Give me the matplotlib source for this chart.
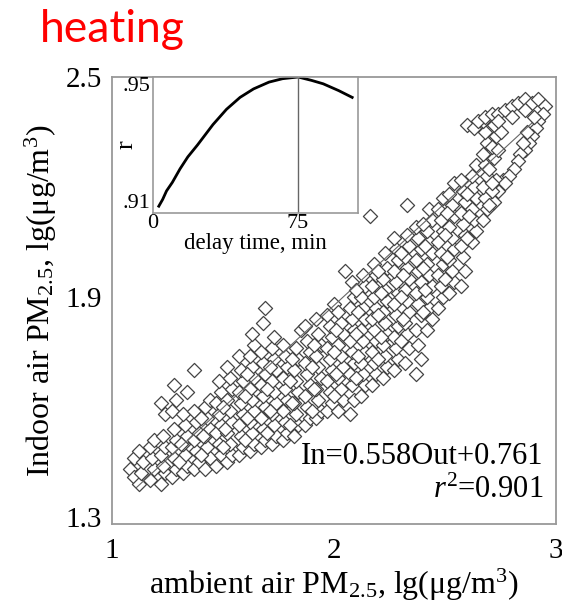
import matplotlib
matplotlib.use('Agg')
import matplotlib.pyplot as plt
import numpy as np

plt.rcParams['font.family'] = 'Liberation Serif'
plt.rcParams['mathtext.fontset'] = 'custom'
plt.rcParams['mathtext.rm'] = 'Liberation Serif'
plt.rcParams['mathtext.it'] = 'Liberation Serif:italic'

# lg of ambient / indoor PM2.5 during the heating season, one column slice per row
ambient = [
    1.08, 1.10, 1.10, 1.12, 1.13, 1.14, 1.12,
    1.17, 1.19, 1.18, 1.17, 1.19,
    1.22, 1.24, 1.23, 1.22, 1.24, 1.23, 1.22, 1.24,
    1.27, 1.29, 1.28, 1.27, 1.29, 1.28, 1.27, 1.29, 1.28,
    1.32, 1.34, 1.33, 1.32, 1.34, 1.33, 1.32, 1.34,
    1.37, 1.39, 1.38, 1.37, 1.39, 1.38, 1.37, 1.37,
    1.42, 1.44, 1.43, 1.42, 1.44, 1.43, 1.42, 1.44,
    1.47, 1.49, 1.48, 1.47, 1.49, 1.48, 1.47, 1.49, 1.48,
    1.52, 1.54, 1.53, 1.52, 1.54, 1.53, 1.52, 1.54, 1.53, 1.52,
    1.57, 1.59, 1.58, 1.57, 1.59, 1.58, 1.57, 1.59, 1.58, 1.57,
    1.62, 1.64, 1.63, 1.62, 1.64, 1.63, 1.62, 1.64, 1.63, 1.62, 1.64, 1.63,
    1.67, 1.69, 1.68, 1.67, 1.69, 1.68, 1.67, 1.69, 1.68, 1.67, 1.68, 1.69,
    1.72, 1.74, 1.73, 1.72, 1.74, 1.73, 1.72, 1.74, 1.73, 1.72, 1.73,
    1.77, 1.79, 1.78, 1.77, 1.79, 1.78, 1.77, 1.79, 1.78, 1.77,
    1.82, 1.84, 1.83, 1.82, 1.84, 1.83, 1.82, 1.84, 1.83, 1.85,
    1.87, 1.89, 1.88, 1.87, 1.89, 1.88, 1.87, 1.89, 1.88, 1.87,
    1.92, 1.94, 1.93, 1.92, 1.94, 1.93, 1.92, 1.94, 1.93, 1.92,
    1.97, 1.99, 1.98, 1.97, 1.99, 1.98, 1.97, 1.99, 1.98, 2.00, 1.97,
    2.02, 2.04, 2.03, 2.02, 2.04, 2.03, 2.02, 2.04, 2.03, 2.02,
    2.07, 2.09, 2.08, 2.07, 2.09, 2.08, 2.07, 2.09, 2.08, 2.07, 2.09, 2.08, 2.05,
    2.12, 2.14, 2.13, 2.12, 2.14, 2.13, 2.12, 2.14, 2.13, 2.12, 2.14, 2.13,
    2.17, 2.19, 2.18, 2.17, 2.19, 2.18, 2.17, 2.19, 2.18, 2.17, 2.19, 2.18, 2.16,
    2.22, 2.24, 2.23, 2.22, 2.24, 2.23, 2.22, 2.24, 2.23, 2.22, 2.24, 2.23,
    2.27, 2.29, 2.28, 2.27, 2.29, 2.28, 2.27, 2.29, 2.28, 2.27, 2.29, 2.28, 2.27,
    2.32, 2.34, 2.33, 2.32, 2.34, 2.33, 2.32, 2.34, 2.33, 2.32, 2.34, 2.33, 2.33,
    2.37, 2.39, 2.38, 2.37, 2.39, 2.38, 2.37, 2.39, 2.38, 2.37, 2.39, 2.38, 2.37,
    2.42, 2.44, 2.43, 2.42, 2.44, 2.43, 2.42, 2.44, 2.43, 2.42, 2.44, 2.43,
    2.47, 2.49, 2.48, 2.47, 2.49, 2.48, 2.47, 2.49, 2.48, 2.47, 2.49,
    2.52, 2.54, 2.53, 2.52, 2.54, 2.53, 2.52, 2.54, 2.53, 2.52, 2.54,
    2.57, 2.59, 2.58, 2.57, 2.59, 2.58, 2.57, 2.59, 2.58, 2.57,
    2.62, 2.64, 2.63, 2.62, 2.64, 2.63, 2.62, 2.64,
    2.67, 2.69, 2.68, 2.67, 2.69, 2.68, 2.67, 2.69, 2.68, 2.67,
    2.72, 2.74, 2.76, 2.73, 2.71, 2.70, 2.72, 2.71, 2.73, 2.72, 2.74, 2.75,
    2.60, 2.63, 2.65, 2.68, 2.71, 2.74, 2.77, 2.80, 2.83, 2.86, 2.89, 2.92, 2.95, 2.86, 2.80, 2.74,
    2.94, 2.92, 2.91, 2.89, 2.88, 2.86, 2.84, 2.83, 2.81, 2.79, 2.77, 2.90, 2.87, 2.85,
    # denser core of the band
    1.30, 1.31,
    1.40, 1.41, 1.40,
    1.50, 1.51, 1.50,
    1.60, 1.61, 1.60, 1.61,
    1.70, 1.71, 1.70, 1.71,
    1.80, 1.81, 1.80, 1.81,
    1.90, 1.91, 1.90, 1.91,
    2.00, 2.01, 2.00, 2.01,
    2.10, 2.11, 2.10, 2.11, 2.10,
    2.20, 2.21, 2.20, 2.21, 2.20,
    2.30, 2.31, 2.30, 2.31, 2.30,
    2.40, 2.41, 2.40, 2.41, 2.40,
    2.50, 2.51, 2.50, 2.51,
    2.60, 2.61, 2.60,
    2.70, 2.71,
]
indoor = [
    1.43, 1.41, 1.46, 1.39, 1.42, 1.45, 1.48,
    1.40, 1.43, 1.46, 1.49, 1.51,
    1.39, 1.42, 1.44, 1.47, 1.49, 1.52, 1.61, 1.58,
    1.41, 1.43, 1.46, 1.49, 1.51, 1.54, 1.59, 1.62, 1.66,
    1.42, 1.44, 1.47, 1.50, 1.52, 1.55, 1.58, 1.64,
    1.43, 1.45, 1.48, 1.51, 1.53, 1.56, 1.59, 1.70,
    1.43, 1.46, 1.49, 1.52, 1.54, 1.57, 1.60, 1.62,
    1.44, 1.47, 1.50, 1.53, 1.55, 1.58, 1.61, 1.64, 1.67,
    1.45, 1.47, 1.50, 1.53, 1.56, 1.59, 1.62, 1.65, 1.68, 1.71,
    1.47, 1.49, 1.52, 1.55, 1.58, 1.61, 1.64, 1.67, 1.70, 1.74,
    1.48, 1.50, 1.53, 1.56, 1.59, 1.62, 1.65, 1.68, 1.71, 1.74, 1.77, 1.80,
    1.49, 1.51, 1.54, 1.57, 1.60, 1.63, 1.66, 1.69, 1.72, 1.75, 1.83, 1.87,
    1.50, 1.52, 1.55, 1.58, 1.61, 1.64, 1.67, 1.70, 1.73, 1.76, 1.79,
    1.51, 1.53, 1.56, 1.59, 1.62, 1.65, 1.68, 1.71, 1.74, 1.77,
    1.52, 1.55, 1.58, 1.61, 1.64, 1.67, 1.70, 1.73, 1.76, 1.81,
    1.55, 1.57, 1.60, 1.63, 1.66, 1.69, 1.72, 1.75, 1.78, 1.82,
    1.57, 1.59, 1.62, 1.65, 1.68, 1.71, 1.74, 1.77, 1.80, 1.84,
    1.59, 1.61, 1.64, 1.67, 1.70, 1.73, 1.76, 1.79, 1.82, 1.88, 1.85,
    1.59, 1.62, 1.65, 1.68, 1.71, 1.74, 1.77, 1.80, 1.83, 1.86,
    1.58, 1.62, 1.66, 1.69, 1.72, 1.75, 1.78, 1.81, 1.84, 1.87, 1.90, 1.94, 1.97,
    1.63, 1.66, 1.69, 1.72, 1.75, 1.78, 1.81, 1.84, 1.87, 1.90, 1.93, 1.96,
    1.66, 1.69, 1.72, 1.75, 1.78, 1.81, 1.84, 1.87, 1.90, 1.93, 1.96, 1.99, 2.12,
    1.68, 1.71, 1.74, 1.77, 1.80, 1.83, 1.86, 1.89, 1.92, 1.95, 1.98, 2.02,
    1.70, 1.73, 1.76, 1.79, 1.82, 1.85, 1.88, 1.91, 1.94, 1.97, 2.00, 2.03, 2.06,
    1.72, 1.76, 1.80, 1.83, 1.86, 1.89, 1.92, 1.95, 1.98, 2.01, 2.04, 2.07, 2.15,
    1.69, 1.73, 1.77, 1.81, 1.85, 1.88, 1.91, 1.94, 1.97, 2.00, 2.03, 2.06, 2.09,
    1.81, 1.84, 1.87, 1.90, 1.93, 1.96, 1.99, 2.02, 2.05, 2.08, 2.11, 2.14,
    1.87, 1.90, 1.93, 1.96, 1.99, 2.02, 2.05, 2.08, 2.11, 2.14, 2.17,
    1.91, 1.94, 1.97, 2.00, 2.03, 2.06, 2.09, 2.12, 2.15, 2.18, 2.21,
    1.93, 1.97, 2.01, 2.04, 2.07, 2.10, 2.13, 2.16, 2.19, 2.22,
    2.05, 2.08, 2.11, 2.14, 2.17, 2.20, 2.23, 2.26,
    2.11, 2.14, 2.17, 2.20, 2.23, 2.26, 2.29, 2.32, 2.35, 2.38,
    2.16, 2.19, 2.22, 2.22, 2.19, 2.25, 2.28, 2.31, 2.34, 2.37, 2.30, 2.35,
    2.37, 2.36, 2.38, 2.39, 2.40, 2.40, 2.41, 2.42, 2.43, 2.44, 2.43, 2.44, 2.42, 2.41, 2.39, 2.38,
    2.40, 2.38, 2.36, 2.34, 2.32, 2.30, 2.29, 2.27, 2.25, 2.23, 2.21, 2.39, 2.35, 2.32,
    # denser core of the band
    1.45, 1.50,
    1.47, 1.52, 1.57,
    1.49, 1.54, 1.60,
    1.51, 1.57, 1.63, 1.69,
    1.53, 1.59, 1.65, 1.71,
    1.55, 1.61, 1.67, 1.73,
    1.59, 1.65, 1.71, 1.77,
    1.63, 1.69, 1.75, 1.81,
    1.68, 1.74, 1.80, 1.86, 1.92,
    1.73, 1.79, 1.85, 1.91, 1.97,
    1.78, 1.84, 1.90, 1.96, 2.02,
    1.86, 1.92, 1.98, 2.04, 2.10,
    1.95, 2.01, 2.07, 2.13,
    2.06, 2.12, 2.18,
    2.15, 2.21,
]

# regression In = 0.558 Out + 0.761, r^2 = 0.901
slope = 0.558
intercept = 0.761
r_squared = 0.901
fit_range = [1.11, 2.89]

# correlation of indoor vs ambient against delay time
delay = [3, 5, 7, 10, 14, 18, 23, 27, 31, 38, 45, 52, 60, 67, 75, 82, 88, 96, 103]
corr = [0.912, 0.914, 0.9165, 0.919, 0.923, 0.9265, 0.930, 0.933, 0.936, 0.9405,
        0.944, 0.9465, 0.9485, 0.9495, 0.950, 0.949, 0.948, 0.946, 0.944]
best_delay = 75

fig = plt.figure(figsize=(5.62, 6.10), dpi=100)
ax = fig.add_axes([112/562, 1 - 524/610, 444/562, 447/610])

fit_x = np.array(fit_range)
ax.plot(fit_x, slope * fit_x + intercept, color='#666666', lw=0.8, zorder=3)
ax.scatter(ambient, indoor, marker='D', s=52, facecolors='white',
           edgecolors='#444444', linewidths=0.9, zorder=2)

ax.set_xlim(1, 3)
ax.set_ylim(1.281, 2.5)
ax.set_xticks([1, 2, 3])
ax.set_xticklabels(['1', '2', '3'])
ax.set_yticks([1.3, 1.9, 2.5])
ax.set_yticklabels(['1.3', '1.9', '2.5'])
ax.tick_params(length=0, labelsize=21)
ax.tick_params(axis='x', pad=10)
ax.tick_params(axis='y', pad=7)
for sp in ax.spines.values():
    sp.set_color('#999999')
    sp.set_linewidth(1.3)

ax.set_xlabel('ambient air PM$_\\mathregular{2.5}$, lg(\u03bcg/m$^\\mathregular{3}$)',
              fontsize=23, labelpad=2)
ax.set_ylabel('Indoor air PM$_\\mathregular{2.5}$, lg(\u03bcg/m$^\\mathregular{3}$)',
              fontsize=23, labelpad=5)

ax.text(0.971, 0.150, 'In=%.3fOut+%.3f' % (slope, intercept), transform=ax.transAxes,
        ha='right', va='center', fontsize=22)
ax.text(0.971, 0.076, '$r^2$=%.3f' % r_squared, transform=ax.transAxes,
        ha='right', va='center', fontsize=22)

# inset: delay time
ins = fig.add_axes([153/562, 1 - 213/610, 205/562, 136/610])
ins.plot(delay, corr, color='black', lw=2)
ins.axvline(best_delay, color='#666666', lw=1)
ins.set_xlim(0, 106)
ins.set_ylim(0.91, 0.95)
ins.set_xticks([0, 75])
ins.set_xticklabels(['0', '75'])
ins.set_yticks([0.91, 0.95])
ins.set_yticklabels(['.91', '.95'])
ins.get_yticklabels()[0].set_va('bottom')
ins.get_yticklabels()[1].set_va('top')
ins.tick_params(length=0, labelsize=16)
ins.tick_params(axis='x', pad=1)
ins.tick_params(axis='y', pad=2)
for sp in ins.spines.values():
    sp.set_color('#999999')
    sp.set_linewidth(1.2)
ins.set_xlabel('delay time, min', fontsize=16.5, labelpad=0)
ins.set_ylabel('r', fontsize=19)
ins.yaxis.set_label_coords(-0.075, 0.5)

fig.text(40/562, 1 - 42/610, 'heating', color='red', fontsize=32,
         family='Lato', va='baseline', ha='left')

fig.savefig('out.png', dpi=100)
